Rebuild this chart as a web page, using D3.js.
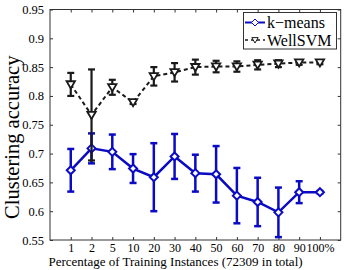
<!DOCTYPE html>
<html><head><meta charset="utf-8">
<script src="https://cdn.jsdelivr.net/npm/d3@7"></script>
<style>
html,body{margin:0;padding:0;background:#fff;}
svg text{font-family:"Liberation Serif","Times New Roman",serif;fill:#000;}
</style></head>
<body>
<svg id="chart" width="346" height="270"></svg>
<script>
const categories = ["1","2","5","10","20","30","40","50","60","70","80","90","100%"];
const kmeans     = [0.671,0.709,0.703,0.674,0.659,0.695,0.666,0.664,0.627,0.616,0.598,0.633,0.633];
const kmeansErr  = [0.037,0.026,0.030,0.025,0.059,0.039,0.032,0.049,0.048,0.042,0.043,0.019,0.002];
const wellsvm    = [0.820,0.767,0.815,0.789,0.834,0.841,0.850,0.851,0.851,0.854,0.856,0.858,0.858];
const wellsvmErr = [0.020,0.079,0.013,0.003,0.016,0.016,0.013,0.010,0.009,0.008,0.006,0.004,0.003];
const yTicks = [0.55,0.6,0.65,0.7,0.75,0.8,0.85,0.9,0.95];
const seriesNames = ["k\u2212means","WellSVM"];

const svg = d3.select("#chart");
const L=50, R=340.7, T=9.5, B=240;
const x = d3.scaleLinear().domain([0,14]).range([L,R]);
const y = d3.scaleLinear().domain([0.55,0.95]).range([B,T]);
const blue = "#0b0bc4", black = "#1a1a1a";

// frame
svg.append("rect").attr("x",L).attr("y",T).attr("width",R-L).attr("height",B-T)
  .attr("fill","none").attr("stroke","#333").attr("stroke-width",1);

// axes
const xIdx = categories.map((c,i)=>i+1);
const xAxis = d3.axisBottom(x).tickValues(xIdx).tickFormat(d=>categories[d-1]).tickSizeInner(-3).tickSizeOuter(0).tickPadding(3.5);
const gx = svg.append("g").attr("transform",`translate(0,${B})`).call(xAxis);
const xTop = d3.axisTop(x).tickValues(xIdx).tickFormat("").tickSizeInner(-3).tickSizeOuter(0);
const gxt = svg.append("g").attr("transform",`translate(0,${T})`).call(xTop);
const yAxis = d3.axisLeft(y).tickValues(yTicks).tickFormat(d=>String(+d.toFixed(2))).tickSizeInner(-3).tickSizeOuter(0).tickPadding(6);
const gy = svg.append("g").attr("transform",`translate(${L},0)`).call(yAxis);
const yRight = d3.axisRight(y).tickValues(yTicks).tickFormat("").tickSizeInner(-3).tickSizeOuter(0);
const gyr = svg.append("g").attr("transform",`translate(${R},0)`).call(yRight);
[gx,gxt,gy,gyr].forEach(g=>{
  g.select(".domain").remove();
  g.selectAll(".tick line").attr("stroke","#333");
  g.selectAll("text").style("font-family","Liberation Serif").style("font-size","12.5px").attr("fill","#000");
});
gx.selectAll("text").style("font-size","12px");

// axis titles
svg.append("text").attr("x",175.5).attr("y",266).attr("text-anchor","middle")
  .style("font-size","13px").text("Percentage of Training Instances (72309 in total)");
svg.append("text").attr("transform",`translate(18.5,${(T+B)/2+12.5}) rotate(-90)`).attr("text-anchor","middle")
  .style("font-size","20.5px").text("Clustering accuracy");

function errorBars(vals, errs, color, w){
  const g = svg.append("g").attr("stroke",color).attr("stroke-width",w).attr("fill","none");
  vals.forEach((v,i)=>{
    const cx = x(i+1), y1=y(v+errs[i]), y2=y(v-errs[i]);
    g.append("line").attr("x1",cx).attr("x2",cx).attr("y1",y1).attr("y2",y2);
    g.append("line").attr("x1",cx-3.5).attr("x2",cx+3.5).attr("y1",y1).attr("y2",y1);
    g.append("line").attr("x1",cx-3.5).attr("x2",cx+3.5).attr("y1",y2).attr("y2",y2);
  });
}
const diamond = s => `M0,${-s}L${s},0L0,${s}L${-s},0Z`;
const triDown = s => `M${-s},${-s*0.75}L${s},${-s*0.75}L0,${s*0.95}Z`;

// k-means
errorBars(kmeans,kmeansErr,blue,2.5);
svg.append("path").datum(kmeans).attr("fill","none").attr("stroke",blue).attr("stroke-width",2.5)
  .attr("d",d3.line().x((d,i)=>x(i+1)).y(d=>y(d)));
svg.append("g").selectAll("path").data(kmeans).join("path")
  .attr("transform",(d,i)=>`translate(${x(i+1)},${y(d)})`).attr("d",diamond(4))
  .attr("fill","#fff").attr("stroke",blue).attr("stroke-width",2);

// WellSVM
errorBars(wellsvm,wellsvmErr,black,2.2);
svg.append("path").datum(wellsvm).attr("fill","none").attr("stroke",black).attr("stroke-width",2)
  .attr("stroke-dasharray","4,3")
  .attr("d",d3.line().x((d,i)=>x(i+1)).y(d=>y(d)));
svg.append("g").selectAll("path").data(wellsvm).join("path")
  .attr("transform",(d,i)=>`translate(${x(i+1)},${y(d)})`).attr("d",triDown(4.2))
  .attr("fill","#fff").attr("stroke",black).attr("stroke-width",1.8);

// legend
const lg = svg.append("g");
lg.append("rect").attr("x",243.5).attr("y",12.5).attr("width",93).attr("height",36.5)
  .attr("fill","#fff").attr("stroke","#333").attr("stroke-width",1);
const rows = [
  {name:seriesNames[0], color:blue, dash:null, marker:diamond(3.5), cy:22.5, sw:2},
  {name:seriesNames[1], color:black, dash:"3,3", marker:triDown(3.2), cy:40, sw:1.6}
];
rows.forEach(r=>{
  lg.append("line").attr("x1",245).attr("x2",265).attr("y1",r.cy).attr("y2",r.cy)
    .attr("stroke",r.color).attr("stroke-width",r.sw).attr("stroke-dasharray",r.dash);
  lg.append("path").attr("transform",`translate(255,${r.cy})`).attr("d",r.marker)
    .attr("fill","#fff").attr("stroke",r.color).attr("stroke-width",1);
  lg.append("text").attr("x",267).attr("y",r.cy+5.5).style("font-size","16px").text(r.name);
});
</script>
</body></html>
